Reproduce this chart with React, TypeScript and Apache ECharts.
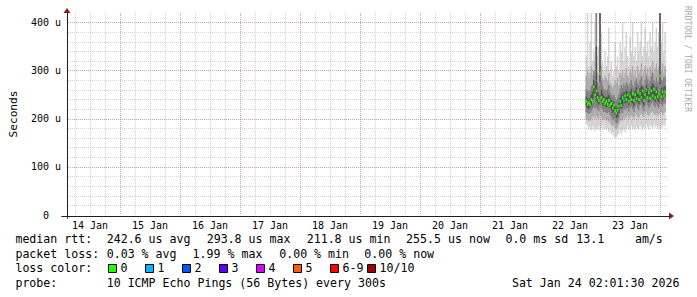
import React, { useEffect, useRef } from "react";
import * as echarts from "echarts";

// ---------- data ----------
const DAY_LABELS = ["14 Jan", "15 Jan", "16 Jan", "17 Jan", "18 Jan", "19 Jan", "20 Jan", "21 Jan", "22 Jan", "23 Jan"];
const Y_TICK_LABELS = ["0\u00a0\u00a0", "100 u", "200 u", "300 u", "400 u"];

// samples: hours after 14 Jan 00:00, every 30 minutes from 22 Jan 18:30
const START_HOUR = 210.5;
const STEP_HOURS = 0.5;

const MEDIAN = [236, 230, 234, 229, 240, 236, 266, 250, 258, 244, 238, 293.8, 244, 236, 240, 232, 236, 230, 238, 228, 232, 222, 228, 216, 211.8, 218, 226, 236, 228, 244, 238, 248, 240, 250, 236, 246, 240, 252, 238, 250, 242, 256, 240, 252, 244, 258, 238, 250, 260, 244, 254, 242, 258, 248, 262, 244, 256, 246, 252, 289.6, 246, 256, 248, 255.5];
const LOSS = [0, 0, 0, 0, 0, 0, 0, 0, 0, 0, 0, 0, 0, 0, 0, 0, 0, 0, 0, 0, 0, 0, 0, 0, 0, 0, 0, 0, 0, 0, 1, 0, 0, 0, 0, 0, 0, 0, 0, 0, 0, 0, 0, 0, 0, 0, 0, 0, 0, 0, 0, 0, 0, 0, 0, 0, 0, 0, 0, 0, 0, 0, 0, 0];
const PING_MAX = [330, 420, 310, 360, 420, 320, 340, 400, 420, 330, 350, 420, 380, 320, 300, 340, 310, 330, 390, 300, 320, 290, 300, 360, 310, 330, 300, 360, 340, 400, 320, 350, 380, 330, 310, 370, 340, 400, 330, 350, 320, 380, 340, 360, 400, 330, 350, 390, 340, 360, 330, 380, 350, 400, 340, 360, 390, 350, 380, 420, 360, 400, 340, 380];
const PING_MIN = [190, 185, 178, 182, 176, 185, 180, 174, 182, 178, 184, 176, 180, 186, 178, 182, 176, 180, 172, 178, 168, 172, 164, 160, 162, 166, 170, 176, 168, 174, 180, 172, 178, 184, 176, 180, 186, 178, 182, 176, 184, 180, 178, 186, 182, 176, 184, 180, 188, 182, 178, 186, 184, 180, 188, 182, 186, 180, 184, 178, 186, 182, 188, 184];
const PING_P8 = [290, 300, 285, 295, 310, 290, 300, 320, 420, 295, 290, 420, 310, 285, 280, 290, 285, 280, 295, 275, 270, 265, 270, 280, 275, 285, 270, 295, 290, 300, 285, 295, 305, 290, 285, 300, 295, 310, 290, 300, 285, 310, 295, 300, 315, 290, 300, 310, 295, 305, 290, 310, 300, 320, 295, 305, 315, 300, 310, 420, 300, 315, 295, 310];
const PING_P1 = [200, 198, 195, 196, 200, 204, 205, 200, 206, 202, 200, 208, 204, 200, 198, 200, 196, 198, 194, 192, 188, 185, 186, 180, 178, 182, 188, 195, 198, 196, 202, 200, 204, 206, 200, 205, 208, 204, 200, 206, 210, 204, 202, 208, 212, 206, 204, 210, 214, 208, 206, 210, 214, 216, 210, 208, 212, 206, 210, 212, 214, 208, 212, 214];
const PING_P7 = [262, 258, 255, 260, 268, 272, 300, 290, 420, 275, 268, 420, 280, 268, 262, 260, 258, 262, 270, 255, 250, 245, 250, 244, 238, 242, 250, 262, 270, 264, 272, 268, 276, 272, 266, 275, 280, 270, 265, 278, 284, 275, 270, 282, 288, 272, 268, 280, 290, 282, 274, 280, 288, 295, 280, 276, 286, 278, 274, 420, 282, 280, 286, 288];
const PING_P2 = [214, 212, 210, 212, 216, 220, 225, 222, 224, 220, 216, 228, 222, 218, 214, 214, 212, 212, 214, 208, 204, 198, 200, 194, 190, 192, 200, 210, 216, 212, 220, 218, 222, 222, 214, 222, 226, 220, 214, 224, 230, 222, 218, 228, 232, 222, 216, 226, 234, 228, 222, 226, 232, 236, 228, 224, 230, 226, 222, 232, 230, 226, 232, 232];
const PING_P6 = [246, 242, 240, 244, 250, 256, 280, 270, 350, 256, 250, 420, 260, 252, 248, 246, 244, 246, 250, 242, 238, 232, 236, 228, 222, 225, 234, 244, 252, 248, 256, 254, 260, 256, 250, 258, 262, 254, 248, 260, 266, 258, 252, 264, 268, 266, 250, 262, 270, 264, 256, 260, 268, 274, 270, 258, 266, 260, 256, 420, 264, 260, 266, 268];
const PING_P3 = [226, 222, 220, 224, 228, 234, 252, 246, 238, 234, 230, 276, 236, 230, 228, 226, 224, 226, 228, 222, 218, 212, 216, 208, 202, 204, 212, 222, 222, 226, 234, 232, 236, 234, 228, 236, 234, 232, 226, 238, 236, 236, 230, 242, 238, 234, 228, 240, 246, 240, 234, 238, 246, 240, 240, 236, 242, 238, 234, 272, 242, 238, 244, 246];

const RTT_STATS = ["242.6 us avg", "293.8 us max", "211.8 us min", "255.5 us now", "0.0 ms sd", "13.1", "am/s"];
const LOSS_STATS = ["0.03 % avg", "1.99 % max", "0.00 % min", "0.00 % now"];
const LOSS_LABELS = ["0", "1", "2", "3", "4", "5", "6-9", "10/10"];
const LOSS_COLORS = ["#26ff00", "#00b8ff", "#0059ff", "#5e00ff", "#dd00ff", "#ff5e00", "#ff0000", "#a10000"];
const PROBE_TEXT = "10 ICMP Echo Pings (56 Bytes) every 300s";
const TIMESTAMP = "Sat Jan 24 02:01:30 2026";
const ROW_TITLES = ["median rtt:", "packet loss:", "loss color:", "probe:"];

// ---------- layout ----------
const MONO = '"DejaVu Sans Mono"';
const X_MAX = 242.8; // grid 0: 14 Jan 00:00 .. end, 2.5 px per hour
const LABEL_MAX = 254.8; // grid 4 starts 13 Jan 12:00
const Y_MAX = 420;
const ROW_Y = [238.5, 253.5, 268.3, 283.0];
const ROW_X0 = 15.4;
const RTT_X = [106.7, 206.7, 306.7, 406.1, 505.4, 576.2, 634.9];
const LOSS_X = [106.7, 192.6, 279.2, 364.3];
const BOX_X0 = 108.5;
const BOX_STEP = 37;
const PROBE_X = 106.7;
const TIME_X = 511.9;

const GRID_GRAY = "rgba(150,150,150,0.42)";
const GRID_RED = "rgba(222,79,79,0.38)";
const ARROW = "#801f1f";
const AXIS = "#1f1f1f";
const SMOKE = ["#d2d2d2", "#ababab", "#808080", "#4f4f4f"];

const hidden = (gridIndex: number) => ({ gridIndex, type: "value", min: 0, max: 1, show: false });

function buildOption() {
  const bands = [
    { lo: PING_MIN, hi: PING_MAX, color: SMOKE[0] },
    { lo: PING_P1, hi: PING_P8, color: SMOKE[1] },
    { lo: PING_P2, hi: PING_P7, color: SMOKE[2] },
    { lo: PING_P3, hi: PING_P6, color: SMOKE[3] },
  ];
  const times = MEDIAN.map((_, i) => START_HOUR + i * STEP_HOURS);

  const smokeSeries = bands.map((b) => ({
    type: "custom",
    xAxisIndex: 0,
    yAxisIndex: 0,
    clip: true,
    silent: true,
    data: times.map((t, i) => [t, b.lo[i], b.hi[i]]),
    encode: { x: 0, y: [1, 2] },
    renderItem: (_p: any, api: any) => {
      const t = api.value(0);
      const a = api.coord([t - STEP_HOURS / 2, api.value(2)]);
      const c = api.coord([t + STEP_HOURS / 2, api.value(1)]);
      return {
        type: "rect",
        shape: { x: a[0], y: a[1], width: c[0] - a[0] + 0.2, height: c[1] - a[1] },
        style: { fill: b.color },
      };
    },
  }));

  const medianSeries = {
    type: "custom",
    xAxisIndex: 0,
    yAxisIndex: 0,
    clip: true,
    silent: true,
    data: times.map((t, i) => [t, MEDIAN[i], LOSS[i]]),
    encode: { x: 0, y: 1 },
    renderItem: (_p: any, api: any) => {
      const t = api.value(0);
      const a = api.coord([t - STEP_HOURS / 2, api.value(1)]);
      const c = api.coord([t + STEP_HOURS / 2, api.value(1)]);
      return {
        type: "rect",
        shape: { x: a[0], y: a[1] - 1.5, width: c[0] - a[0] + 0.3, height: 3 },
        style: { fill: LOSS_COLORS[api.value(2)] },
      };
    },
  };

  const txt = (text: string, x: number, y: number, extra: any = {}) => ({
    type: "text",
    x,
    y,
    silent: true,
    style: { text, font: `11.6px ${MONO}`, fill: "#000", align: "left", verticalAlign: "middle", ...extra },
  });

  const graphics: any[] = [];
  ROW_TITLES.forEach((t, r) => graphics.push(txt(t, ROW_X0, ROW_Y[r])));
  RTT_STATS.forEach((s, i) => graphics.push(txt(s, RTT_X[i], ROW_Y[0])));
  LOSS_STATS.forEach((s, i) => graphics.push(txt(s, LOSS_X[i], ROW_Y[1])));
  LOSS_LABELS.forEach((l, i) => {
    const bx = BOX_X0 + i * BOX_STEP;
    graphics.push({
      type: "rect",
      silent: true,
      shape: { x: bx, y: ROW_Y[2] - 3.8, width: 8, height: 8 },
      style: { fill: LOSS_COLORS[i], stroke: "#000", lineWidth: 1 },
    });
    graphics.push(txt(l, bx + 12, ROW_Y[2]));
  });
  graphics.push(txt(PROBE_TEXT, PROBE_X, ROW_Y[3]));
  graphics.push(txt(TIMESTAMP, TIME_X, ROW_Y[3]));
  graphics.push({
    type: "text",
    x: 687.5,
    y: 59,
    rotation: -Math.PI / 2,
    silent: true,
    style: { text: "RRDTOOL / TOBI OETIKER", font: `8px ${MONO}`, fill: "#aaaaaa", align: "center", verticalAlign: "middle" },
  });

  return {
    animation: false,
    backgroundColor: "#ffffff",
    grid: [
      { left: 60, top: 13, width: 607, height: 202 }, // data + vertical grid
      { left: 67, top: 13, width: 600, height: 202 }, // horizontal grid + y labels
      { left: 62, top: 13, width: 607, height: 203 }, // x axis line
      { left: 67, top: 13, width: 600, height: 205 }, // y axis line
      { left: 30, top: 13, width: 637, height: 202 }, // x labels
    ],
    xAxis: [
      {
        gridIndex: 0, type: "value", position: "bottom", min: 0, max: X_MAX, interval: 6, z: 3,
        axisLine: { show: false }, axisTick: { show: false }, axisLabel: { show: false },
        splitLine: { show: true, showMinLine: false, showMaxLine: false, lineStyle: { color: GRID_GRAY, width: 1, type: [1, 1] } },
      },
      {
        gridIndex: 0, type: "value", position: "bottom", min: 0, max: X_MAX, interval: 24, z: 4,
        axisLine: { show: false }, axisTick: { show: false }, axisLabel: { show: false },
        splitLine: { show: true, showMinLine: false, showMaxLine: false, lineStyle: { color: GRID_RED, width: 1, type: [1, 1] } },
      },
      hidden(1),
      {
        gridIndex: 2, type: "value", position: "bottom", min: 0, max: 1, z: 5,
        axisLine: { show: true, onZero: false, symbol: ["none", "triangle"], symbolSize: [7, 5], symbolOffset: [0, 2.5], lineStyle: { color: ARROW, width: 1 } },
        axisTick: { show: false }, axisLabel: { show: false }, splitLine: { show: false },
      },
      {
        gridIndex: 2, type: "value", position: "bottom", min: 0, max: 1, z: 6,
        axisLine: { show: true, onZero: false, lineStyle: { color: AXIS, width: 1 } },
        axisTick: { show: false }, axisLabel: { show: false }, splitLine: { show: false },
      },
      hidden(3),
      {
        gridIndex: 4, type: "value", position: "bottom", min: 0, max: LABEL_MAX, interval: 24,
        axisLine: { show: false, onZero: false }, axisTick: { show: false }, splitLine: { show: false },
        axisLabel: {
          show: true, margin: 5, fontFamily: MONO, fontSize: 10, color: "#000", hideOverlap: false,
          formatter: (v: number) => {
            const k = Math.round(v / 24) - 1;
            return Math.abs(v / 24 - Math.round(v / 24)) < 1e-6 && k >= 0 && k < DAY_LABELS.length ? DAY_LABELS[k] : "";
          },
        },
      },
    ],
    yAxis: [
      { gridIndex: 0, type: "value", min: 0, max: Y_MAX, show: false },
      {
        gridIndex: 1, type: "value", min: 0, max: Y_MAX, interval: 20, position: "left", z: 3,
        axisLine: { show: false, onZero: false }, axisTick: { show: false }, axisLabel: { show: false },
        splitLine: { show: true, showMinLine: false, showMaxLine: false, lineStyle: { color: GRID_GRAY, width: 1, type: [1, 1] } },
      },
      {
        gridIndex: 1, type: "value", min: 0, max: Y_MAX, interval: 100, position: "left", z: 4,
        axisLine: { show: false, onZero: false }, axisTick: { show: false },
        axisLabel: {
          show: true, margin: 7, fontFamily: MONO, fontSize: 10, color: "#000",
          formatter: (v: number) => (v % 100 === 0 && Y_TICK_LABELS[v / 100] !== undefined ? Y_TICK_LABELS[v / 100] : ""),
        },
        splitLine: { show: true, showMinLine: false, showMaxLine: false, lineStyle: { color: GRID_RED, width: 1, type: [1, 1] } },
        name: "Seconds", nameLocation: "middle", nameGap: 49,
        nameTextStyle: { fontFamily: MONO, fontSize: 11.2, color: "#000" },
      },
      hidden(2),
      {
        gridIndex: 3, type: "value", min: 0, max: 1, position: "left", z: 5,
        axisLine: { show: true, onZero: false, symbol: ["none", "triangle"], symbolSize: [7, 5], symbolOffset: [0, 2.5], lineStyle: { color: ARROW, width: 1 } },
        axisTick: { show: false }, axisLabel: { show: false }, splitLine: { show: false },
      },
      {
        gridIndex: 3, type: "value", min: 0, max: 1, position: "left", z: 6,
        axisLine: { show: true, onZero: false, lineStyle: { color: AXIS, width: 1 } },
        axisTick: { show: false }, axisLabel: { show: false }, splitLine: { show: false },
      },
      hidden(4),
    ],
    series: [...smokeSeries, medianSeries],
    graphic: graphics,
  };
}

export default function App() {
  const ref = useRef<HTMLDivElement>(null);
  useEffect(() => {
    if (!ref.current) return;
    const chart = echarts.init(ref.current, null, { renderer: "svg" });
    chart.setOption(buildOption() as any);
    return () => chart.dispose();
  }, []);
  return <div ref={ref} style={{ position: "fixed", left: 0, top: 0, width: 697, height: 297 }} />;
}
